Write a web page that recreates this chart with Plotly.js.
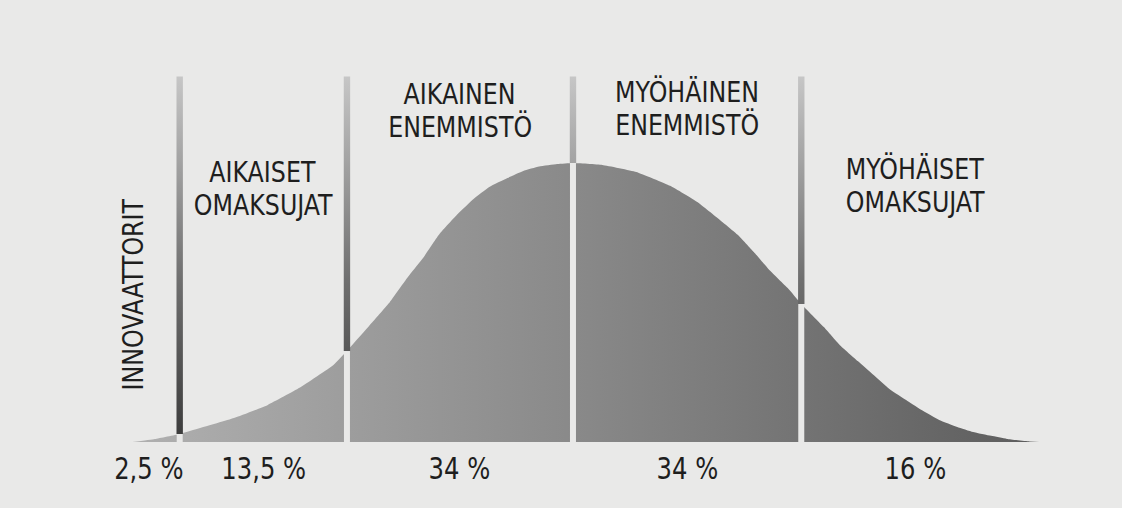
<!DOCTYPE html>
<html><head><meta charset="utf-8">
<script src="https://cdn.plot.ly/plotly-3.0.1.min.js"></script>
<style>html,body{margin:0;padding:0;background:#e9e9e8}#chart{width:1122px;height:508px}</style>
</head><body><div id="chart"></div>
<script>
// Bell curve: x in standard-deviation units (0 = mean), y = relative height (peak = 100)
const curveX = [-1.95,-1.85,-1.74,-1.65,-1.50,-1.35,-1.21,-1.06,-1.00,-0.89,-0.81,-0.74,-0.66,-0.59,-0.51,-0.44,-0.37,-0.29,-0.22,-0.15,-0.07,0,
                0.13,0.28,0.43,0.55,0.65,0.73,0.80,0.87,0.95,1.01,1.11,1.18,1.26,1.33,1.40,1.48,1.55,1.62,1.70,1.77,1.85,1.92,2.02,2.09];
const curveY = [0,1.1,2.9,5.0,8.6,13.3,19.4,27.6,32.6,42.7,50.2,58.1,66.3,74.6,81.7,87.1,91.4,94.6,97.1,98.7,99.6,100,
                99.3,96.8,91.8,86.0,79.6,74.2,68.1,61.6,55.2,49.5,41.2,34.8,29.0,24.0,19.0,14.7,11.1,7.9,5.4,3.6,2.2,1.1,0.2,0];
// Category boundaries and segment edges (same units)
const boundaries = [-1.74, -1.00, 0, 1.01];
const segmentEdges = [-2.01, -1.74, -1.00, 0, 1.01, 2.02];
// Texts
const shareLabels = ['2,5 %', '13,5 %', '34 %', '34 %', '16 %'];
const groupLabels = [['INNOVAATTORIT'], ['AIKAISET', 'OMAKSUJAT'], ['AIKAINEN', 'ENEMMISTÖ'], ['MYÖHÄINEN', 'ENEMMISTÖ'], ['MYÖHÄISET', 'OMAKSUJAT']];

const BG = '#e9e9e8';
const FONT = 'DejaVu Sans Condensed, Liberation Sans Narrow, sans-serif';
const LINE_TOP = 131;
const PX_PER_X = 226;           // horizontal scale used to size line widths

function interp(x) {
  for (let i = 0; i < curveX.length - 1; i++) {
    if (x >= curveX[i] && x <= curveX[i + 1]) {
      const t = (x - curveX[i]) / (curveX[i + 1] - curveX[i]);
      return curveY[i] + t * (curveY[i + 1] - curveY[i]);
    }
  }
  return 0;
}

const traces = [];
traces.push({
  x: curveX, y: curveY, type: 'scatter', mode: 'lines',
  line: {width: 0, shape: 'spline', smoothing: 0.4, color: 'rgba(0,0,0,0)'},
  fill: 'tozeroy',
  fillgradient: {type: 'horizontal', colorscale: [[0, '#b0b0b0'], [0.5, '#888888'], [1, '#5c5c5c']]},
  hoverinfo: 'skip'
});
const halfW = 3.2 / PX_PER_X;
boundaries.forEach(b => {
  const hb = interp(b);
  traces.push({
    x: [b, b], y: [0, hb], type: 'scatter', mode: 'lines',
    line: {color: BG, width: 6}, hoverinfo: 'skip'
  });
  traces.push({
    x: [b - halfW, b + halfW, b + halfW, b - halfW, b - halfW],
    y: [hb, hb, LINE_TOP, LINE_TOP, hb],
    type: 'scatter', mode: 'lines', line: {width: 0, color: 'rgba(0,0,0,0)'},
    fill: 'toself',
    fillgradient: {type: 'vertical', start: 0, stop: LINE_TOP,
      colorscale: [[0, '#3a3a3a'], [0.45, '#707070'], [0.8, '#a8a8a8'], [1, '#c6c6c6']]},
    hoverinfo: 'skip'
  });
});

const annotations = [];
const txt = '#1e1e1e';
shareLabels.forEach((s, i) => {
  const xm = (segmentEdges[i] + segmentEdges[i + 1]) / 2;
  annotations.push({x: xm, y: -9.5, text: s, showarrow: false, xanchor: 'center', yanchor: 'middle',
    font: {family: FONT, size: 31, color: txt}});
});
const groupFirstY = [null, 96.8, 124.7, 125.4, 97.8];
const LINE_STEP = 11.8;
groupLabels.forEach((lines, i) => {
  if (i === 0) {
    annotations.push({x: -1.947, y: 53, text: lines[0], textangle: -90, showarrow: false,
      xanchor: 'center', yanchor: 'middle', font: {family: FONT, size: 29, color: txt}});
    return;
  }
  const xm = (segmentEdges[i] + segmentEdges[i + 1]) / 2;
  lines.forEach((t, k) => {
    annotations.push({x: xm, y: groupFirstY[i] - k * LINE_STEP, text: t, showarrow: false,
      xanchor: 'center', yanchor: 'middle', font: {family: FONT, size: 29, color: txt}});
  });
});

const layout = {
  width: 1122, height: 508,
  margin: {l: 0, r: 0, t: 0, b: 0},
  paper_bgcolor: BG, plot_bgcolor: BG,
  showlegend: false,
  xaxis: {range: [-2.535, 2.429], visible: false, fixedrange: true},
  yaxis: {range: [-23.66, 158.42], visible: false, fixedrange: true},
  annotations: annotations
};
Plotly.newPlot('chart', traces, layout, {staticPlot: true, displayModeBar: false}).then(gd => {
  // condense the type horizontally, as in the printed figure
  gd.querySelectorAll('.annotation-text').forEach(t => {
    const s = /%/.test(t.textContent) ? 0.87 : 0.91;
    const x = parseFloat(t.getAttribute('x')) || 0;
    t.setAttribute('transform', `translate(${x},0) scale(${s},1) translate(${-x},0)`);
  });
});
</script>
</body></html>
